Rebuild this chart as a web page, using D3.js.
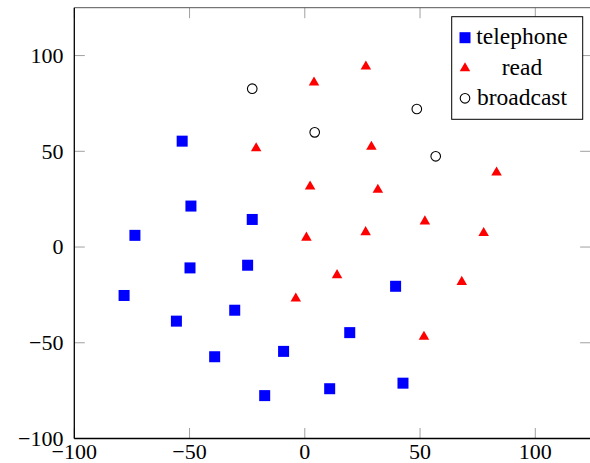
<!DOCTYPE html>
<html>
<head>
<meta charset="utf-8">
<script src="https://cdn.jsdelivr.net/npm/d3@7"></script>
<style>
  html, body { margin: 0; padding: 0; background: #fff; }
  svg { display: block; }
</style>
</head>
<body>
<svg id="chart" width="590" height="463"></svg>
<script>
// ---- data ----
const telephoneX = [-53.2, -49.4, -22.8, -73.7, -49.8, -24.8, -78.4, 39.4, -55.7, -30.4, 19.5, -39.1, -9.2, -17.4, 10.8, 42.6];
const telephoneY = [55.3, 21.4, 14.4, 6.1, -10.9, -9.5, -25.3, -20.5, -38.7, -33.0, -44.7, -57.3, -54.5, -77.6, -74.0, -71.1];
const readX = [4.0, 26.5, -21.1, 28.9, 2.3, 31.7, 83.2, 52.1, 0.7, 26.4, 77.6, 14.0, 68.1, -3.9, 51.7];
const readY = [85.9, 94.3, 51.6, 52.4, 31.6, 29.9, 38.9, 13.4, 4.9, 7.8, 7.3, -14.7, -18.2, -26.9, -46.9];
const broadcastX = [-22.8, 4.3, 48.6, 56.8];
const broadcastY = [82.7, 59.9, 72.1, 47.4];
const xTicks = [-100, -50, 0, 50, 100];
const yTicks = [-100, -50, 0, 50, 100];
const seriesNames = ["telephone", "read", "broadcast"];

(function () {
const FONT = "'Liberation Serif', 'Times New Roman', Times, 'DejaVu Serif', serif";
const svg = d3.select("#chart");
const pL = 74.3, pR = 590.6, pT = 7.7, pB = 438.5;
const x = d3.scaleLinear().domain([-100, 124]).range([pL, pR]);
const y = d3.scaleLinear().domain([-100, 125]).range([pB, pT]);
const fmt = v => (v < 0 ? "\u2212" + Math.abs(v) : String(v));

const tickLen = 10.5, tickColor = "#a0a0a0";
const g = svg.append("g");

xTicks.forEach(t => {
  g.append("line").attr("x1", x(t)).attr("x2", x(t)).attr("y1", pB).attr("y2", pB - tickLen)
    .attr("stroke", tickColor).attr("stroke-width", 1);
  g.append("line").attr("x1", x(t)).attr("x2", x(t)).attr("y1", pT).attr("y2", pT + tickLen)
    .attr("stroke", tickColor).attr("stroke-width", 1);
});
yTicks.forEach(t => {
  g.append("line").attr("x1", pL).attr("x2", pL + tickLen).attr("y1", y(t)).attr("y2", y(t))
    .attr("stroke", tickColor).attr("stroke-width", 1);
  g.append("line").attr("x1", pR).attr("x2", pR - tickLen).attr("y1", y(t)).attr("y2", y(t))
    .attr("stroke", tickColor).attr("stroke-width", 1);
});

g.append("line").attr("x1", pL).attr("x2", pR).attr("y1", pT).attr("y2", pT).attr("stroke", "#555").attr("stroke-width", 1);
g.append("line").attr("x1", pR).attr("x2", pR).attr("y1", pT).attr("y2", pB).attr("stroke", "#555").attr("stroke-width", 1);
g.append("line").attr("x1", pL).attr("x2", pL).attr("y1", pT).attr("y2", pB).attr("stroke", "#000").attr("stroke-width", 1.3);
g.append("line").attr("x1", pL).attr("x2", pR).attr("y1", pB).attr("y2", pB).attr("stroke", "#000").attr("stroke-width", 1.3);

const fs = 22;
xTicks.forEach(t => {
  svg.append("text").attr("x", x(t)).attr("y", 459.3).attr("text-anchor", "middle")
    .attr("font-family", FONT).attr("font-size", fs).attr("fill", "#000").text(fmt(t));
});
yTicks.forEach(t => {
  svg.append("text").attr("x", 63.5).attr("y", y(t) + 7.3).attr("text-anchor", "end")
    .attr("font-family", FONT).attr("font-size", fs).attr("fill", "#000").text(fmt(t));
});

const sq = 11;
const tri = d3.symbol().type(d3.symbolTriangle).size(48);
const plot = svg.append("g");
plot.selectAll("rect.tel").data(d3.range(telephoneX.length)).join("rect")
  .attr("x", i => x(telephoneX[i]) - sq / 2).attr("y", i => y(telephoneY[i]) - sq / 2)
  .attr("width", sq).attr("height", sq).attr("fill", "#0000ff");
plot.selectAll("path.read").data(d3.range(readX.length)).join("path")
  .attr("d", tri).attr("transform", i => `translate(${x(readX[i])},${y(readY[i])})`)
  .attr("fill", "#ff0000");
plot.selectAll("circle.bc").data(d3.range(broadcastX.length)).join("circle")
  .attr("cx", i => x(broadcastX[i])).attr("cy", i => y(broadcastY[i])).attr("r", 4.8)
  .attr("fill", "#fff").attr("stroke", "#000").attr("stroke-width", 1.1);

const lg = svg.append("g");
lg.append("rect").attr("x", 451.7).attr("y", 16.7).attr("width", 131).attr("height", 102.6)
  .attr("fill", "#fff").attr("stroke", "#000").attr("stroke-width", 1);
const rowsY = [37.7, 68.3, 98.3];
const mx = 465;
lg.append("rect").attr("x", mx - sq / 2).attr("y", rowsY[0] - sq / 2).attr("width", sq).attr("height", sq).attr("fill", "#0000ff");
lg.append("path").attr("d", tri).attr("transform", `translate(${mx},${rowsY[1]})`).attr("fill", "#ff0000");
lg.append("circle").attr("cx", mx).attr("cy", rowsY[2]).attr("r", 4.8).attr("fill", "#fff").attr("stroke", "#000").attr("stroke-width", 1.1);
seriesNames.forEach((n, i) => {
  lg.append("text").attr("x", 522).attr("y", rowsY[i] + 6.6).attr("text-anchor", "middle")
    .attr("font-family", FONT).attr("font-size", 23.5).attr("fill", "#000").text(n);
});
})();
</script>
</body>
</html>
